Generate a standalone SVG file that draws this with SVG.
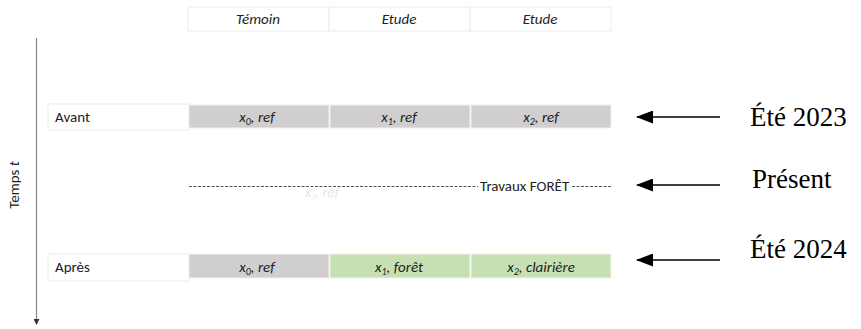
<svg xmlns="http://www.w3.org/2000/svg" width="861" height="329" viewBox="0 0 861 329">
<style>
.hdr{fill:#fff;stroke:#ececec;stroke-width:1}
.lbl{fill:#fff;stroke:#ececec;stroke-width:1}
.grey{fill:#d0cece;stroke:#f2f2f2;stroke-width:1}
.green{fill:#c6e0b4;stroke:#f2f2f2;stroke-width:1}
.t{font-family:Carlito,Lato,"Liberation Sans",Arial,sans-serif;font-size:15px;fill:#222}
.it{font-style:italic;text-anchor:middle}
.big{font-family:"Liberation Serif","Times New Roman",serif;font-size:27px;font-weight:normal;fill:#000}
.arr{stroke:#000;stroke-width:1.5;fill:none}
</style>
<defs>
<marker id="ah" markerWidth="17" markerHeight="13" refX="16" refY="6.5" orient="auto" markerUnits="userSpaceOnUse">
<path d="M0,0 L17,6.5 L0,13 Z" fill="#000"/>
</marker>
<marker id="ax" markerWidth="6" markerHeight="6" refX="5" refY="3" orient="auto" markerUnits="userSpaceOnUse">
<path d="M0,0 L6,3 L0,6 Z" fill="#333"/>
</marker>
</defs>
<rect width="861" height="329" fill="#fff"/>

<g id="header">
<rect class="hdr" x="188" y="7" width="141" height="24"/>
<rect class="hdr" x="329" y="7" width="141" height="24"/>
<rect class="hdr" x="470" y="7" width="141" height="24"/>
<text class="t it" x="258" y="24">Témoin</text>
<text class="t it" x="399" y="24">Etude</text>
<text class="t it" x="540" y="24">Etude</text>
</g>

<g id="axis">
<line x1="36.5" y1="38" x2="36.5" y2="324" stroke="#888" stroke-width="1.2" marker-end="url(#ax)"/>
<text class="t" transform="translate(19,185) rotate(-90)" text-anchor="middle" font-size="13.5">Temps <tspan font-style="italic">t</tspan></text>
</g>

<g id="row-avant">
<rect class="lbl" x="48" y="104" width="141" height="26"/>
<text class="t" x="55" y="122">Avant</text>
<rect class="grey" x="189" y="105" width="140" height="23"/>
<rect class="grey" x="330" y="105" width="140" height="23"/>
<rect class="grey" x="471" y="105" width="140" height="23"/>
<text class="t it" x="257" y="122">x<tspan font-size="10" dy="3">0</tspan><tspan dy="-3">, ref</tspan></text>
<text class="t it" x="399" y="122">x<tspan font-size="10" dy="3">1</tspan><tspan dy="-3">, ref</tspan></text>
<text class="t it" x="541" y="122">x<tspan font-size="10" dy="3">2</tspan><tspan dy="-3">, ref</tspan></text>
</g>

<g id="row-travaux">
<line x1="189" y1="186.5" x2="478" y2="186.5" stroke="#555" stroke-width="1" stroke-dasharray="3,1.5"/>
<text class="t" x="480" y="190.5" font-size="13">Travaux FORÊT</text>
<line x1="572" y1="186.5" x2="611" y2="186.5" stroke="#555" stroke-width="1" stroke-dasharray="3,1.5"/>
<text class="t it" x="322" y="197" font-size="10" style="fill:#e8e8e8">x<tspan font-size="7" dy="2">1</tspan><tspan dy="-2">, ref</tspan></text>
</g>

<g id="row-apres">
<rect class="lbl" x="48" y="254" width="141" height="27"/>
<text class="t" x="55" y="272">Après</text>
<rect class="grey" x="189" y="254" width="140" height="24"/>
<rect class="green" x="330" y="254" width="140" height="24"/>
<rect class="green" x="471" y="254" width="140" height="24"/>
<text class="t it" x="257" y="272">x<tspan font-size="10" dy="3">0</tspan><tspan dy="-3">, ref</tspan></text>
<text class="t it" x="399" y="272">x<tspan font-size="10" dy="3">1</tspan><tspan dy="-3">, forêt</tspan></text>
<text class="t it" x="541" y="272">x<tspan font-size="10" dy="3">2</tspan><tspan dy="-3">, clairière</tspan></text>
</g>

<g id="connectors">
<line class="arr" x1="720" y1="117" x2="637" y2="117" marker-end="url(#ah)"/>
<line class="arr" x1="720" y1="185" x2="637" y2="185" marker-end="url(#ah)"/>
<line class="arr" x1="720" y1="260" x2="637" y2="260" marker-end="url(#ah)"/>
</g>

<g id="labels">
<text class="big" x="750" y="126">Été 2023</text>
<text class="big" x="752" y="188">Présent</text>
<text class="big" x="750" y="258">Été 2024</text>
</g>
</svg>
